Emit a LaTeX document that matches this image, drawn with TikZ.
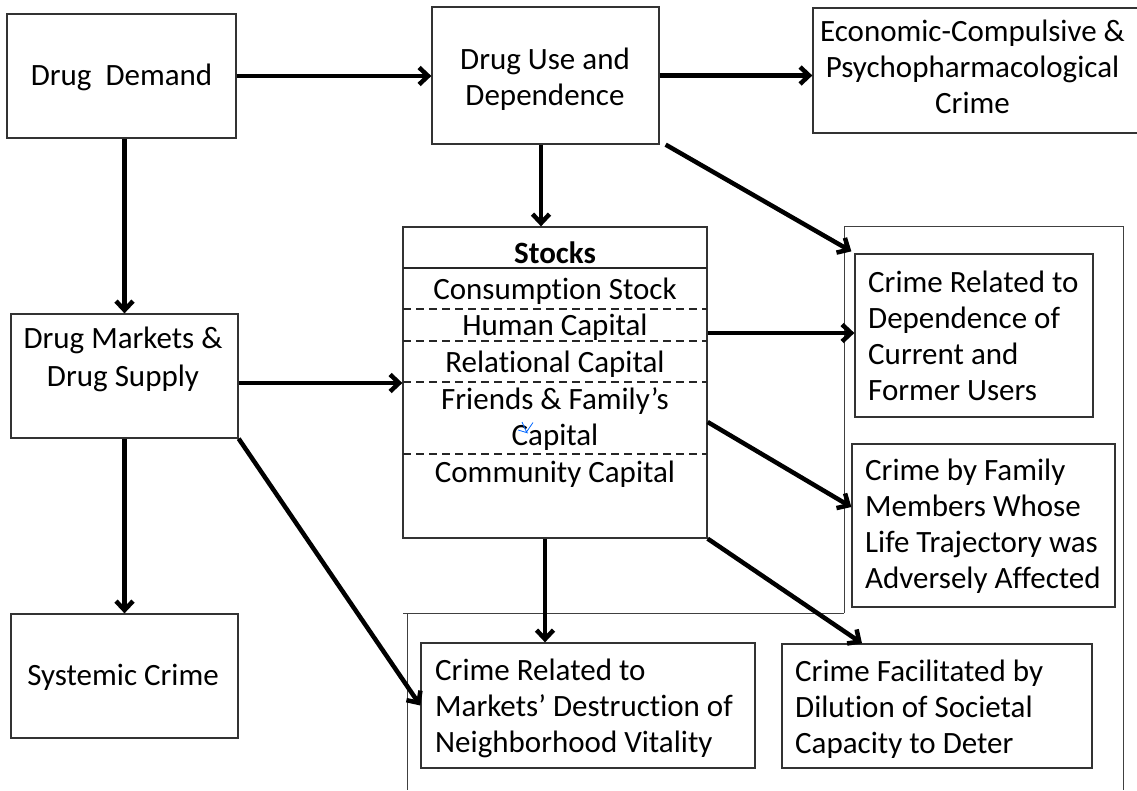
\documentclass[tikz,border=0pt]{standalone}
\usepackage{fontspec}
\setmainfont{Carlito}[Ligatures=NoCommon]
\usetikzlibrary{arrows.meta}
\begin{document}
\begin{tikzpicture}[x=1pt,y=-1pt,
  box/.style={draw=black!80, line width=1.3pt, inner sep=0pt, minimum width=#1},
  txt/.style={inner sep=0pt, font=\fontsize{31}{36}\selectfont},
  arr/.style={line width=4.5pt, -{Straight Barb[length=9pt,width=17pt]}},
  brk/.style={draw=black!75, line width=1pt},
  sep/.style={line width=1.3pt, draw=black!85},
  dsep/.style={line width=1.4pt, draw=black!85, dash pattern=on 8pt off 5pt}]
\clip (0,0) rectangle (1137,790);
\useasboundingbox (0,0) rectangle (1137,790);

% brackets
\draw[brk] (844,613) -- (844,226) -- (1123,226) -- (1123,790);
\draw[brk] (403,613) -- (844,613);
\draw[brk] (407,613) -- (407,790);

% boxes
\node[box=229pt, minimum height=124pt] (dd) at (121.5,76) {};
\node[box=227pt, minimum height=137pt] (du) at (545.5,75.5) {};
\node[box=332pt, minimum height=125pt] (econ) at (979,70.5) {};
\node[box=227pt, minimum height=124pt] (dm) at (124.5,376) {};
\node[box=227pt, minimum height=124pt] (sys) at (124.5,676) {};
\node[box=304pt, minimum height=311pt] (st) at (555,382.5) {};
\node[box=238pt, minimum height=163pt] (cdep) at (974,335.5) {};
\node[box=263pt, minimum height=163pt] (cfam) at (983.5,525.5) {};
\node[box=334pt, minimum height=125pt] (mkt) at (588,705.5) {};
\node[box=310pt, minimum height=124pt] (cfac) at (937,706) {};

% texts
\node[txt] at (121.5,77) {Drug\ \ Demand};
\node[txt, align=center] at (545,79) {Drug Use and\\Dependence};
\node[txt, align=center] at (972.5,67) {Economic-Compulsive \&\\Psychopharmacological\\Crime};
\node[txt, align=center, font=\fontsize{31}{38}\selectfont] at (123,359) {Drug Markets \&\\Drug Supply};
\node[txt] at (123,677) {Systemic Crime};
\node[txt, align=left, anchor=west] at (868,336) {Crime Related to\\Dependence of\\Current and\\Former Users};
\node[txt, align=left, anchor=west] at (865,526) {Crime by Family\\Members Whose\\Life Trajectory was\\Adversely Affected};
\node[txt, align=left, anchor=west] at (435,708) {Crime Related to\\Markets’ Destruction of\\Neighborhood Vitality};
\node[txt, align=left, anchor=west] at (795,709) {Crime Facilitated by\\Dilution of Societal\\Capacity to Deter};

% stocks internals
\draw[sep] (403,268) -- (707,268);
\draw[dsep] (403,309) -- (707,309);
\draw[dsep] (403,341) -- (707,341);
\draw[dsep] (403,382) -- (707,382);
\draw[dsep] (403,454) -- (707,454);
\node[txt, font=\fontsize{31}{36}\bfseries] at (555,253) {Stocks};
\node[txt] at (555,291) {Consumption Stock};
\node[txt] at (555,327) {Human Capital};
\node[txt] at (555,364) {Relational Capital};
\node[txt, align=center] at (555,419) {Friends \& Family’s\\Capital};
\node[txt] at (555,474) {Community Capital};
\draw[blue!60!cyan, line width=0.8pt] (522,422) -- (526.5,432) -- (533,422.5) (518,430) -- (528,433);

% connectors
\draw[arr] (dd.east) -- (dd.east -| du.west);
\draw[arr] (du.east) -- (du.east -| econ.west);
\draw[arr] ([xshift=-4.5pt]du.south) -- ([xshift=-4.5pt]du.south |- st.north);
\draw[arr] ([xshift=6pt]du.south east) -- ([xshift=-3pt,yshift=2pt]cdep.north west);
\draw[arr] (dm.north |- dd.south) -- (dm.north);
\draw[arr] ([yshift=-7pt]dm.east) -- ([yshift=-7pt]dm.east -| st.west);
\draw[arr] ([yshift=2.5pt]cdep.west -| st.east) -- ([yshift=2.5pt]cdep.west);
\draw[arr] ([yshift=-39.5pt]st.east) -- ([yshift=18.5pt]cfam.west);
\draw[arr] (dm.south) -- (sys.north);
\draw[arr] (dm.south east) -- (mkt.west);
\draw[arr] ([xshift=-10pt]st.south) -- ([xshift=-10pt]st.south |- mkt.north);
\draw[arr] (st.south east) -- ([xshift=-75pt]cfac.north);
\end{tikzpicture}
\end{document}
